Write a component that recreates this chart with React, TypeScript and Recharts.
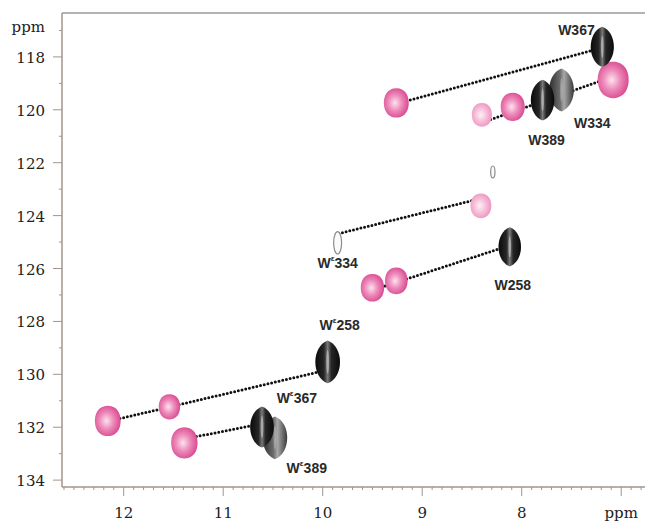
import React from 'react';
import { ScatterChart, Scatter, XAxis, YAxis, ZAxis, ReferenceLine } from 'recharts';

// axis ranges (ppm), 1H reversed on x, 15N reversed on y
const X_DOMAIN: [number, number] = [6.62, 12.62];
const Y_DOMAIN: [number, number] = [116.34, 134.26];

const xLabelTicks = [7, 8, 9, 10, 11, 12];
const xTickLabels = ['ppm', '8', '9', '10', '11', '12'];
const xMinorTicks = Array.from({ length: 60 }, (_, i) => +(6.7 + i * 0.1).toFixed(1));

const yLabelTicks = [117, 118, 120, 122, 124, 126, 128, 130, 132, 134];
const yTickLabels = ['ppm', '118', '120', '122', '124', '126', '128', '130', '132', '134'];
const yMinorTicks = [117, 118, 119, 120, 121, 122, 123, 124, 125, 126, 127, 128, 129, 130, 131, 132, 133, 134];

// peaks: h = 1H ppm, n = 15N ppm, v = relative volume
const blackPeaks = [
  { h: 7.19, n: 117.62, v: 73 },
  { h: 7.79, n: 119.63, v: 75 },
  { h: 8.12, n: 125.18, v: 69 },
  { h: 9.95, n: 129.53, v: 83 },
  { h: 10.61, n: 131.99, v: 76 },
];
const grayPeaks = [
  { h: 7.6, n: 119.25, v: 83 },
  { h: 10.48, n: 132.4, v: 82 },
];
const pinkPeaks = [
  { h: 9.26, n: 119.74, v: 57 },
  { h: 7.08, n: 118.87, v: 88 },
  { h: 8.09, n: 119.89, v: 53 },
  { h: 9.5, n: 126.73, v: 50 },
  { h: 9.26, n: 126.47, v: 47 },
  { h: 12.16, n: 131.76, v: 61 },
  { h: 11.54, n: 131.23, v: 42 },
  { h: 11.39, n: 132.59, v: 64 },
];
const lightPinkPeaks = [
  { h: 8.4, n: 120.19, v: 37 },
  { h: 8.41, n: 123.63, v: 40 },
];
const outlinePeaks = [
  { h: 8.29, n: 122.35, v: 4 },
  { h: 9.85, n: 125.03, v: 14 },
];

const shiftPairs = [
  { from: { h: 9.23, n: 119.74 }, to: { h: 7.2, n: 117.66 } },
  { from: { h: 8.42, n: 120.51 }, to: { h: 7.1, n: 118.77 } },
  { from: { h: 8.43, n: 123.37 }, to: { h: 9.85, n: 124.69 } },
  { from: { h: 8.14, n: 125.15 }, to: { h: 9.55, n: 126.88 } },
  { from: { h: 10.03, n: 129.9 }, to: { h: 12.17, n: 131.79 } },
  { from: { h: 10.67, n: 131.91 }, to: { h: 11.44, n: 132.48 } },
];

const peakLabels = [
  { h: 7.45, n: 116.98, text: 'W367' },
  { h: 7.29, n: 120.5, text: 'W334' },
  { h: 7.75, n: 121.14, text: 'W389' },
  { h: 9.85, n: 125.78, text: 'Wε334' },
  { h: 8.09, n: 126.62, text: 'W258' },
  { h: 9.83, n: 128.13, text: 'Wε258' },
  { h: 10.26, n: 130.89, text: 'Wε367' },
  { h: 10.16, n: 133.54, text: 'Wε389' },
];

const AXIS = '#a0958f';
const SERIF = '"DejaVu Serif", serif';

const XTick = (props: any) => {
  const { x, y, payload } = props;
  const i = xLabelTicks.findIndex((t) => Math.abs(t - payload.value) < 1e-6);
  const major = i >= 0;
  return (
    <g>
      <line x1={x} x2={x} y1={y} y2={y + (major ? 9 : 3)} stroke={AXIS} strokeWidth={1} />
      {major && (
        <text x={x} y={y + 31} textAnchor="middle" fontFamily={SERIF} fontSize={15} fill="#222">
          {xTickLabels[i]}
        </text>
      )}
    </g>
  );
};

const YTick = (props: any) => {
  const { x, y, payload } = props;
  const v = payload.value;
  const i = yLabelTicks.findIndex((t) => Math.abs(t - v) < 1e-6);
  const major = i >= 0 && v !== 117;
  return (
    <g>
      <line x1={x - (major ? 9 : 3)} x2={x} y1={y} y2={y} stroke={AXIS} strokeWidth={1} />
      {i >= 0 && (
        <text x={x - 17} y={y + (v === 117 ? 2 : 6)} textAnchor="end" fontFamily={SERIF} fontSize={15} fill="#222">
          {yTickLabels[i]}
        </text>
      )}
    </g>
  );
};

const blob = (kind: string) => (props: any) => {
  const { cx, cy, width } = props;
  if (!isFinite(cx) || !isFinite(cy) || !isFinite(width)) return <g />;
  const r = width / 2;
  if (kind === 'black' || kind === 'gray') {
    const rx = r * 0.76;
    const ry = r * 1.32;
    const k = rx * 1.333;
    const d = `M${cx},${cy - ry} C${cx + k},${cy - ry * 0.72} ${cx + k},${cy + ry * 0.72} ${cx},${cy + ry} C${cx - k},${cy + ry * 0.72} ${cx - k},${cy - ry * 0.72} ${cx},${cy - ry} Z`;
    return (
      <g>
        <path d={d} fill={kind === 'black' ? 'url(#gBlack)' : 'url(#gGray)'} />
        <ellipse cx={cx} cy={cy} rx={rx * 0.12} ry={ry * 0.55} fill="#fff" opacity={kind === 'black' ? 0.4 : 0.25} />
      </g>
    );
  }
  if (kind === 'outline') {
    const rx = r * 0.6;
    const ry = r * 1.67;
    return <ellipse cx={cx} cy={cy} rx={rx} ry={ry} fill="#fafafa" stroke="#8c8c8c" strokeWidth={1.2} />;
  }
  const rx = r * 0.92;
  const ry = r * 1.09;
  const d =
    `M${cx},${cy - ry} ` +
    `C${cx + rx * 0.75},${cy - ry} ${cx + rx * 1.05},${cy - ry * 0.45} ${cx + rx},${cy + ry * 0.1} ` +
    `C${cx + rx * 0.95},${cy + ry * 0.75} ${cx + rx * 0.45},${cy + ry} ${cx},${cy + ry} ` +
    `C${cx - rx * 0.45},${cy + ry} ${cx - rx * 0.95},${cy + ry * 0.75} ${cx - rx},${cy + ry * 0.1} ` +
    `C${cx - rx * 1.05},${cy - ry * 0.45} ${cx - rx * 0.75},${cy - ry} ${cx},${cy - ry} Z`;
  return <path d={d} fill={kind === 'pink' ? 'url(#gPink)' : 'url(#gPinkLight)'} />;
};

const LabelShape = (props: any) => {
  const { cx, cy, payload } = props;
  if (!isFinite(cx) || !isFinite(cy)) return <g />;
  const eps = payload.text.includes('ε');
  const num = payload.text.replace('W', '').replace('ε', '');
  return (
    <text
      x={cx}
      y={cy}
      textAnchor="middle"
      dominantBaseline="central"
      fontFamily='"Liberation Sans", Arial, sans-serif'
      fontSize={14}
      fontWeight="bold"
      fill="#2a2a2a"
    >
      W
      {eps && (
        <tspan fontSize={8} dy={-5}>
          ε
        </tspan>
      )}
      <tspan dy={eps ? 5 : 0}>{num}</tspan>
    </text>
  );
};

export default function App() {
  return (
    <div style={{ position: 'absolute', left: 0, top: 0, width: 645, height: 521, overflow: 'hidden', background: '#fff' }}>
      <ScatterChart width={700} height={521} margin={{ top: 13, right: 41, bottom: 0, left: 0 }}>
        <defs>
          <radialGradient id="gPink" cx="45%" cy="50%" r="60%">
            <stop offset="0%" stopColor="#fbe3ee" />
            <stop offset="45%" stopColor="#ee8bbb" />
            <stop offset="100%" stopColor="#d43f89" />
          </radialGradient>
          <radialGradient id="gPinkLight" cx="45%" cy="50%" r="60%">
            <stop offset="0%" stopColor="#fdf0f6" />
            <stop offset="50%" stopColor="#f6bcd7" />
            <stop offset="100%" stopColor="#eb8dba" />
          </radialGradient>
          <linearGradient id="gBlack" x1="0" y1="0" x2="1" y2="0">
            <stop offset="0%" stopColor="#0a0a0a" />
            <stop offset="35%" stopColor="#262626" />
            <stop offset="50%" stopColor="#7a7a7a" />
            <stop offset="65%" stopColor="#262626" />
            <stop offset="100%" stopColor="#0a0a0a" />
          </linearGradient>
          <linearGradient id="gGray" x1="0" y1="0" x2="1" y2="0">
            <stop offset="0%" stopColor="#2e2e2e" />
            <stop offset="45%" stopColor="#6e6e6e" />
            <stop offset="60%" stopColor="#a8a8a8" />
            <stop offset="100%" stopColor="#3a3a3a" />
          </linearGradient>
        </defs>
        <XAxis
          type="number"
          dataKey="h"
          domain={X_DOMAIN}
          allowDataOverflow
          reversed
          ticks={xMinorTicks}
          interval={0}
          height={34}
          tickSize={0}
          tickMargin={0}
          tickLine={false}
          tick={<XTick />}
          axisLine={{ stroke: AXIS, strokeWidth: 1.5 }}
        />
        <YAxis
          type="number"
          dataKey="n"
          domain={Y_DOMAIN}
          allowDataOverflow
          reversed
          ticks={yMinorTicks}
          interval={0}
          width={62}
          tickSize={0}
          tickMargin={0}
          tickLine={false}
          tick={<YTick />}
          axisLine={{ stroke: AXIS, strokeWidth: 1.5 }}
        />
        <ZAxis type="number" dataKey="v" domain={[0, 100]} range={[0, 1000]} />
        <ReferenceLine y={Y_DOMAIN[0]} stroke="#9a9a9a" strokeWidth={1.5} />
        <Scatter data={outlinePeaks} shape={blob('outline')} isAnimationActive={false} />
        <Scatter data={lightPinkPeaks} shape={blob('pinkLight')} isAnimationActive={false} />
        <Scatter data={pinkPeaks} shape={blob('pink')} isAnimationActive={false} />
        <Scatter data={grayPeaks} shape={blob('gray')} isAnimationActive={false} />
        <Scatter data={blackPeaks} shape={blob('black')} isAnimationActive={false} />
        {shiftPairs.map((p, i) => (
          <ReferenceLine
            key={i}
            segment={[
              { x: p.from.h, y: p.from.n },
              { x: p.to.h, y: p.to.n },
            ]}
            stroke="#111"
            strokeWidth={3}
            strokeDasharray="0 3.8"
            strokeLinecap="round"
            ifOverflow="visible"
          />
        ))}
        <Scatter data={peakLabels} shape={LabelShape} isAnimationActive={false} />
      </ScatterChart>
    </div>
  );
}
